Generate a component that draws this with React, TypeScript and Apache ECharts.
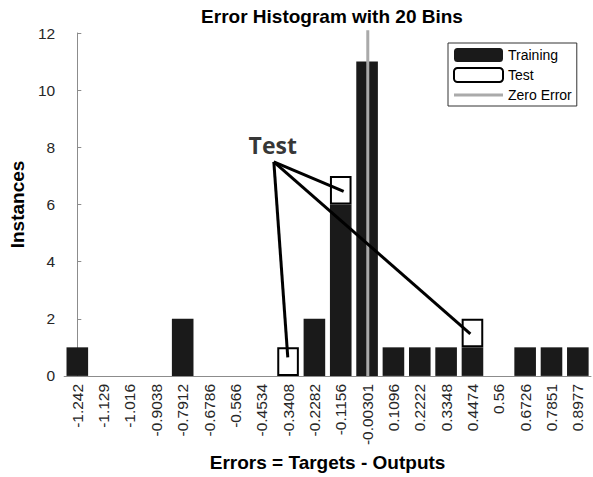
import React, { useEffect, useRef } from 'react';
import * as echarts from 'echarts';

const binLabels = ['-1.242', '-1.129', '-1.016', '-0.9038', '-0.7912', '-0.6786', '-0.566', '-0.4534', '-0.3408', '-0.2282', '-0.1156', '-0.00301', '0.1096', '0.2222', '0.3348', '0.4474', '0.56', '0.6726', '0.7851', '0.8977'];
const trainingCounts = [1, 0, 0, 0, 2, 0, 0, 0, 0, 2, 6, 11, 1, 1, 1, 1, 0, 1, 1, 1];
const testCounts = [null, null, null, null, null, null, null, null, 1, null, 1, null, null, null, null, 1, null, null, null, null];
const yMin = 0;
const yMax = 12;
const yInterval = 2;
const zeroLineTop = 12.1;
// annotation ("Test" callout) in bin-index / count coordinates
const annotationLabel = [7.42, 8.07];
const annotationOrigin = [7.46, 7.49];
const annotationTargets = [[7.99, 0.65], [10.11, 6.46], [14.92, 1.47]];

const FONT = "'Liberation Sans', Arial, Helvetica, sans-serif";
const ZERO_COLOR = '#aaa';
const AXIS_COLOR = '#8c8c8c';
const TICK_TEXT = '#262626';

export default function App() {
  const ref = useRef<HTMLDivElement>(null);
  useEffect(() => {
    if (!ref.current) return;
    const chart = echarts.init(ref.current, null, { renderer: 'svg' });
    const centers = binLabels.map(Number);
    const zeroIdx = 11 + (0 - centers[11]) / (centers[12] - centers[11]);

    const annotationSeries = annotationTargets.map((t, i) => ({
      name: 'annot' + i,
      type: 'line',
      xAxisIndex: 1,
      yAxisIndex: 0,
      data: [annotationOrigin, t],
      symbol: 'none',
      clip: false,
      silent: true,
      z: 5,
      lineStyle: { color: '#000', width: 3 },
    }));

    chart.setOption({
      animation: false,
      backgroundColor: '#fff',
      title: {
        text: 'Error Histogram with 20 Bins',
        left: 327,
        textAlign: 'center',
        top: 2,
        textStyle: { fontFamily: FONT, fontWeight: 'bold', fontSize: 19, color: '#000' },
      },
      legend: {
        data: [
          'Training',
          'Test',
          { name: 'Zero Error', icon: 'path://M0 0H49V3H0Z', itemStyle: { color: ZERO_COLOR } },
        ],
        orient: 'vertical',
        left: 448,
        top: 43,
        padding: [5, 5, 4, 5],
        itemGap: 5,
        itemWidth: 49,
        itemHeight: 14,
        symbolKeepAspect: true,
        borderColor: '#333',
        borderWidth: 1,
        backgroundColor: '#fff',
        textStyle: { fontFamily: FONT, fontSize: 14, color: '#000' },
      },
      grid: { left: 63, right: 2, top: 33, bottom: 93, containLabel: false },
      xAxis: [
        {
          type: 'category',
          data: binLabels,
          name: 'Errors = Targets - Outputs',
          nameLocation: 'middle',
          nameGap: 72,
          nameTextStyle: { fontFamily: FONT, fontWeight: 'bold', fontSize: 19, color: '#000' },
          axisLine: { lineStyle: { color: AXIS_COLOR, width: 1 } },
          axisTick: { inside: true, length: 4, alignWithLabel: true, lineStyle: { color: AXIS_COLOR } },
          axisLabel: { rotate: 90, interval: 0, fontFamily: FONT, fontSize: 15.5, color: TICK_TEXT, margin: 8 },
          splitLine: { show: false },
        },
        {
          type: 'value',
          min: -0.5,
          max: 19.5,
          show: false,
        },
      ],
      yAxis: {
        type: 'value',
        min: yMin,
        max: yMax,
        interval: yInterval,
        name: 'Instances',
        nameLocation: 'middle',
        nameGap: 31.5,
        nameTextStyle: { fontFamily: FONT, fontWeight: 'bold', fontSize: 19, color: '#000' },
        axisLine: { show: true, lineStyle: { color: AXIS_COLOR, width: 1 } },
        axisTick: { show: true, inside: true, length: 4, lineStyle: { color: AXIS_COLOR } },
        axisLabel: { fontFamily: FONT, fontSize: 15.5, color: TICK_TEXT, margin: 9 },
        splitLine: { show: false },
      },
      series: [
        {
          name: 'Training',
          type: 'bar',
          stack: 'errors',
          data: trainingCounts,
          barWidth: '82%',
          itemStyle: { color: '#1a1a1a' },
        },
        {
          name: 'Test',
          type: 'bar',
          stack: 'errors',
          data: testCounts,
          barWidth: '82%',
          itemStyle: { color: '#fff', borderColor: '#000', borderWidth: 2 },
        },
        {
          name: 'Zero Error',
          type: 'line',
          xAxisIndex: 1,
          data: [[zeroIdx, yMin], [zeroIdx, zeroLineTop]],
          symbol: 'none',
          clip: false,
          z: 4,
          lineStyle: { color: ZERO_COLOR, width: 3 },
          itemStyle: { color: ZERO_COLOR },
        },
        ...annotationSeries,
        {
          name: 'annotText',
          type: 'scatter',
          xAxisIndex: 1,
          data: [annotationLabel],
          symbolSize: 0,
          silent: true,
          z: 6,
          label: {
            show: true,
            position: 'inside',
            formatter: 'Test',
            fontFamily: "'Open Sans', 'Noto Sans', sans-serif",
            fontWeight: 'bold',
            fontSize: 23,
            color: '#000',
          },
        },
      ],
    });
    return () => chart.dispose();
  }, []);
  return <div ref={ref} style={{ width: 593, height: 477, position: 'absolute', left: 0, top: 0 }} />;
}
